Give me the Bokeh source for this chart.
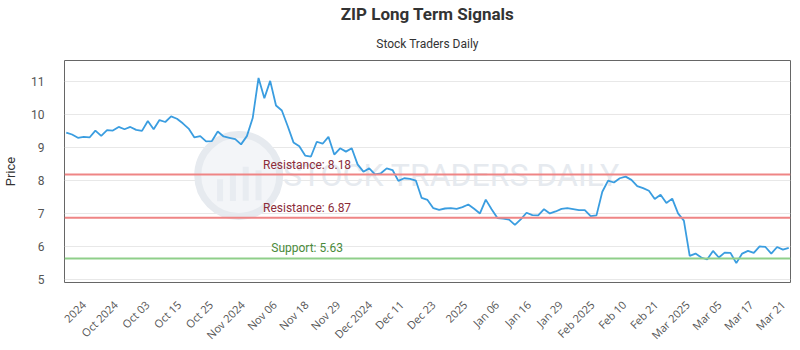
import numpy as np
from bokeh.plotting import figure
from bokeh.models import Title, Span, Label, FixedTicker, Range1d
from bokeh.embed import file_html
from bokeh.resources import INLINE
from bokeh.core.properties import value

# ---- data ----
prices = [9.46, 9.40, 9.30, 9.33, 9.31, 9.52, 9.36, 9.53, 9.52, 9.63,
          9.56, 9.63, 9.54, 9.51, 9.81, 9.56, 9.84, 9.78, 9.95, 9.88,
          9.74, 9.58, 9.31, 9.35, 9.19, 9.20, 9.49, 9.34, 9.30, 9.26,
          9.10, 9.35, 9.90, 11.12, 10.50, 11.03, 10.28, 10.13, 9.66, 9.16,
          9.04, 8.76, 8.73, 9.18, 9.12, 9.33, 8.79, 8.98, 8.88, 8.98,
          8.49, 8.27, 8.37, 8.19, 8.22, 8.37, 8.32, 7.99, 8.07, 8.05,
          8.00, 7.47, 7.41, 7.16, 7.11, 7.15, 7.16, 7.14, 7.19, 7.27,
          7.14, 7.00, 7.42, 7.13, 6.86, 6.84, 6.81, 6.65, 6.82, 7.02,
          6.95, 6.94, 7.13, 7.00, 7.06, 7.14, 7.16, 7.13, 7.10, 7.10,
          6.92, 6.94, 7.66, 8.00, 7.94, 8.07, 8.12, 8.02, 7.83, 7.77,
          7.69, 7.44, 7.57, 7.32, 7.45, 7.00, 6.78, 5.71, 5.78, 5.66,
          5.60, 5.86, 5.66, 5.81, 5.80, 5.49, 5.78, 5.86, 5.80, 6.00,
          5.98, 5.78, 5.98, 5.90, 5.95]

tick_labels = ["2024", "Oct 2024", "Oct 03", "Oct 15", "Oct 25", "Nov 2024",
               "Nov 06", "Nov 18", "Nov 29", "Dec 2024", "Dec 11", "Dec 23",
               "2025", "Jan 06", "Jan 16", "Jan 29", "Feb 2025", "Feb 10",
               "Feb 21", "Mar 2025", "Mar 05", "Mar 17", "Mar 21"]

y_ticks = [5, 6, 7, 8, 9, 10, 11]
resistance_levels = [8.18, 6.87]
support_levels = [5.63]

title_text = "ZIP Long Term Signals"
subtitle_text = "Stock Traders Daily"
watermark_text = "STOCK TRADERS DAILY"

# ---- figure ----
n = len(prices)
xs = list(range(n))

x0, x1 = -0.3, n - 1 + 0.3
y0, y1 = 4.9, 11.65

p = figure(width=800, height=350, output_backend="svg", toolbar_location=None,
           x_range=Range1d(x0, x1), y_range=Range1d(y0, y1),
           min_border_left=60, min_border_right=10, min_border_top=60,
           min_border_bottom=64)

p.background_fill_color = "white"
p.border_fill_color = "white"
p.outline_line_color = "#666666"
p.outline_line_width = 1

# titles (p.title is the outer one; the one added later sits next to the frame)
p.title.text = title_text
p.title.align = "center"
p.title.text_font = "Roboto"
p.title.text_font_size = "17px"
p.title.text_font_style = "bold"
p.title.text_color = "#333333"
p.title.standoff = 3
p.add_layout(Title(text=subtitle_text, align="center", text_font="Roboto",
                   text_font_size="12px", text_font_style="normal",
                   text_color="#333333", standoff=19), "above")

# watermark
wm_x = x0 + (x1 - x0) * 0.533
wm_y = (y0 + y1) / 2 - 0.12
logo_x = x0 + (x1 - x0) * 0.24
p.scatter(x=[logo_x], y=[wm_y], size=82, fill_color="#f3f5f8",
          line_color="#e6eaef", line_width=7)
p.rect(x=[logo_x - 3.2, logo_x - 1.0, logo_x + 1.2, logo_x + 3.4],
       y=[wm_y - 0.45, wm_y - 0.35, wm_y - 0.25, wm_y - 0.3],
       width=6, height=[22, 28, 34, 30], width_units="screen",
       height_units="screen", fill_color="#e8ecf1", line_color=None)
p.text(x=[wm_x], y=[wm_y], text=[watermark_text], text_align="center",
       text_baseline="middle", text_font=value("Roboto"),
       text_font_size="32px", text_color="#e6eaef")

# price line
p.line(xs, prices, line_color="#3a9de0", line_width=1.8)

# levels
label_x = (n - 1) / 3
for lv in resistance_levels:
    p.add_layout(Span(location=lv, dimension="width", line_color="#ef8585",
                      line_width=2))
    p.add_layout(Label(x=label_x, y=lv, text=f"Resistance: {lv:.2f}",
                       text_align="center", text_baseline="bottom", y_offset=3,
                       text_font="Roboto", text_font_size="12px",
                       text_color="#8c2d3a"))
for lv in support_levels:
    p.add_layout(Span(location=lv, dimension="width", line_color="#8fcf8a",
                      line_width=2))
    p.add_layout(Label(x=label_x, y=lv, text=f"Support: {lv:.2f}",
                       text_align="center", text_baseline="bottom", y_offset=3,
                       text_font="Roboto", text_font_size="12px",
                       text_color="#4a8a3a"))

# axes
tick_pos = [round(v, 3) for v in np.linspace(3.0, n - 2.0, len(tick_labels))]
p.xaxis.ticker = FixedTicker(ticks=tick_pos)
p.xaxis.major_label_overrides = {t: lab for t, lab in zip(tick_pos, tick_labels)}
p.xaxis.major_label_orientation = np.pi / 4
p.xaxis.major_label_text_font = "Open Sans"
p.xaxis.major_label_text_font_size = "11px"
p.xaxis.major_label_text_color = "#555555"
p.xaxis.major_label_standoff = 14
p.xaxis.axis_line_color = None
p.xaxis.major_tick_line_color = None
p.xaxis.minor_tick_line_color = None

p.yaxis.ticker = FixedTicker(ticks=y_ticks)
p.yaxis.axis_label = "Price"
p.yaxis.axis_label_text_font = "Roboto"
p.yaxis.axis_label_text_font_size = "13px"
p.yaxis.axis_label_text_font_style = "normal"
p.yaxis.axis_label_text_color = "#333333"
p.yaxis.axis_label_standoff = 10
p.yaxis.major_label_text_font = "Roboto"
p.yaxis.major_label_text_font_size = "12px"
p.yaxis.major_label_text_color = "#555555"
p.yaxis.major_label_standoff = 14
p.yaxis.axis_line_color = None
p.yaxis.major_tick_line_color = None
p.yaxis.minor_tick_line_color = None

p.xgrid.visible = False
p.ygrid.grid_line_color = "#e8e8e8"

open("out.html", "w").write(file_html(p, INLINE))
